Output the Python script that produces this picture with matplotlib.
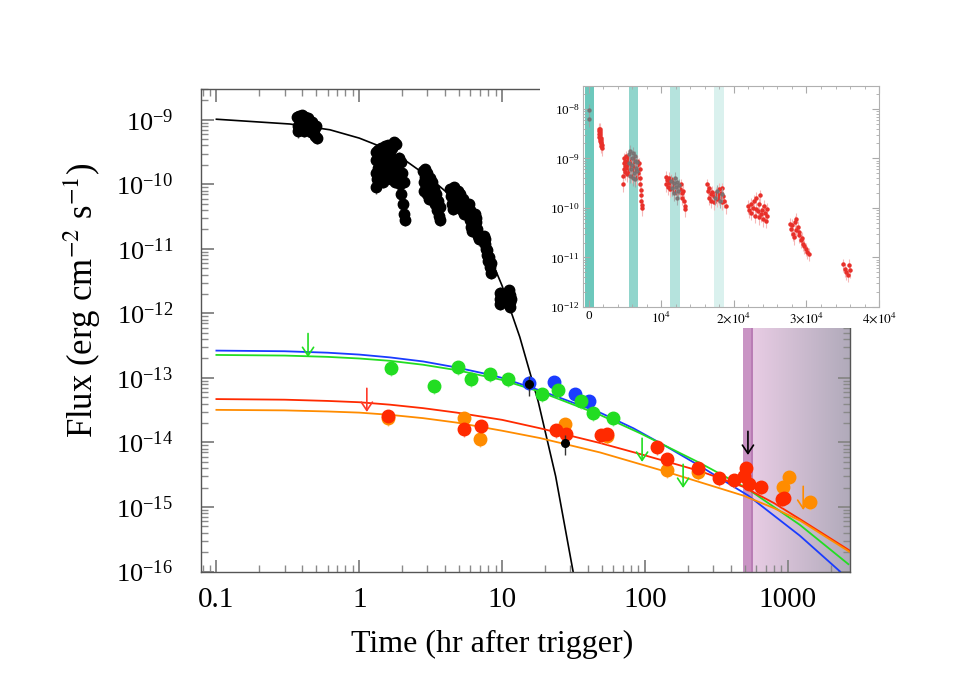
import numpy as np
import matplotlib
matplotlib.use('Agg')
import matplotlib.pyplot as plt
import matplotlib.patches as patches
from matplotlib.colors import LinearSegmentedColormap
from matplotlib.ticker import LogLocator, NullFormatter, MultipleLocator

plt.rcParams['font.family'] = ['Liberation Serif', 'DejaVu Serif']
plt.rcParams['mathtext.fontset'] = 'stix'

# ---- main panel: XRT light curve (hr, erg cm^-2 s^-1) ----
xrt_t = [0.365, 0.37, 0.375, 0.38, 0.385, 0.39, 0.395, 0.40, 0.405, 0.41, 0.415, 0.42, 0.43,
         0.44, 0.45, 0.46, 0.47, 0.48, 0.49, 0.50, 0.51,
         1.30, 1.30, 1.31, 1.32, 1.33, 1.35, 1.36, 1.38, 1.40, 1.42, 1.44, 1.46, 1.48, 1.50,
         1.52, 1.54, 1.56, 1.58, 1.60, 1.62, 1.64, 1.66, 1.68, 1.70, 1.72, 1.75, 1.78, 1.80,
         1.83, 1.86, 1.89, 1.92, 1.95, 1.97, 2.00, 2.02, 2.05, 2.07, 2.08,
         2.80, 2.82, 2.85, 2.88, 2.90, 2.93, 2.96, 3.00, 3.03, 3.07, 3.10, 3.15, 3.20, 3.25,
         3.30, 3.35, 3.40, 3.45, 3.50, 3.55, 3.60, 3.65, 3.70,
         4.35, 4.40, 4.45, 4.50, 4.55, 4.60, 4.70, 4.80, 4.90, 5.00, 5.10, 5.20, 5.30, 5.40, 5.45,
         5.80, 5.85, 5.90, 5.95, 6.00, 6.10, 6.15, 6.20, 6.50, 6.55, 6.60, 6.70, 6.80, 6.90,
         7.50, 7.55, 7.60, 7.70, 7.80, 7.90, 8.00, 8.10, 8.20, 8.30, 8.40,
         9.60, 9.65, 9.70, 9.75, 11.2, 11.3, 11.35, 11.4, 11.5]
xrt_f = [1.1e-9, 8.0e-10, 6.6e-10, 1.15e-9, 9.5e-10, 7.2e-10, 1.2e-9, 1.0e-9, 8.5e-10, 6.8e-10,
         1.1e-9, 9.0e-10, 7.6e-10, 1.05e-9, 8.2e-10, 6.4e-10, 9.2e-10, 7.0e-10, 5.6e-10, 8.0e-10, 5.2e-10,
         3.2e-10, 1.5e-10, 9.0e-11, 2.4e-10, 1.2e-10, 3.4e-10, 1.8e-10, 2.6e-10, 1.4e-10, 3.6e-10,
         2.1e-10, 1.1e-10, 3.0e-10, 1.6e-10, 3.9e-10, 2.3e-10, 1.3e-10, 2.9e-10, 4.1e-10, 1.9e-10,
         3.3e-10, 1.2e-10, 2.5e-10, 3.7e-10, 1.6e-10, 4.5e-10, 1.1e-10, 4.2e-10, 2.0e-10, 1.4e-10,
         2.6e-10, 1.0e-10, 2.2e-10, 7.0e-11, 1.5e-10, 5.0e-11, 3.5e-11, 1.1e-10, 2.8e-11,
         1.6e-10, 1.1e-10, 8.0e-11, 1.75e-10, 1.3e-10, 9.5e-11, 7.0e-11, 1.5e-10, 1.05e-10, 8.0e-11,
         6.0e-11, 1.25e-10, 9.0e-11, 1.1e-10, 6.5e-11, 8.5e-11, 5.0e-11, 7.0e-11, 4.0e-11, 5.5e-11,
         3.2e-11, 4.5e-11, 2.8e-11,
         8.5e-11, 6.5e-11, 5.0e-11, 7.5e-11, 4.2e-11, 9.0e-11, 6.0e-11, 4.5e-11, 8.0e-11, 5.5e-11,
         7.0e-11, 4.0e-11, 6.0e-11, 3.5e-11, 5.0e-11,
         4.5e-11, 3.5e-11, 5.0e-11, 2.8e-11, 4.0e-11, 2.2e-11, 3.2e-11, 1.9e-11, 3.5e-11, 2.6e-11,
         3.0e-11, 2.0e-11, 1.6e-11, 1.4e-11,
         1.6e-11, 1.2e-11, 1.4e-11, 1.0e-11, 8.0e-12, 9.5e-12, 6.5e-12, 7.5e-12, 5.2e-12, 6.0e-12, 4.3e-12,
         2.1e-12, 1.7e-12, 1.4e-12, 1.9e-12, 2.3e-12, 1.9e-12, 1.5e-12, 1.25e-12, 1.7e-12]

# late black points
black_t = [15.4, 27.6]
black_f = [8.0e-14, 9.8e-15]

green_t = [1.67, 3.34, 4.91, 6.05, 8.23, 11.0, 19.0, 24.6, 35.6, 43.2, 59.7]
green_f = [1.43e-13, 7.5e-14, 1.48e-13, 9.6e-14, 1.15e-13, 9.6e-14, 5.6e-14, 6.5e-14, 4.4e-14, 2.86e-14, 2.4e-14]
blue_t = [15.4, 23.1, 32.4, 40.6]
blue_f = [8.4e-14, 8.7e-14, 5.65e-14, 4.4e-14]
red_t = [1.59, 5.41, 7.11, 23.8, 28.0, 49.2, 54.2, 121, 143, 235, 330, 420, 493, 510, 535, 649, 911, 940]
red_f = [2.58e-14, 1.62e-14, 1.8e-14, 1.56e-14, 1.36e-14, 1.31e-14, 1.35e-14, 8.5e-15, 5.5e-15, 4.0e-15,
         2.8e-15, 2.6e-15, 3.0e-15, 4.0e-15, 2.3e-15, 2.05e-15, 1.33e-15, 1.38e-15]
orange_t = [1.59, 5.41, 7.0, 27.6, 54.2, 143, 235, 925, 1018, 1430]
orange_f = [2.4e-14, 2.4e-14, 1.13e-14, 1.94e-14, 1.26e-14, 3.75e-15, 3.5e-15, 2.04e-15, 2.9e-15, 1.2e-15]

# upper limits (arrow tips)
ul_green_t = [0.438, 95.5, 185]
ul_green_f = [2.1e-13, 5.0e-15, 1.97e-15]
ul_red_t = [1.13]
ul_red_f = [2.97e-14]
ul_black_t = [526]
ul_black_f = [6.4e-15]
ul_orange_t = [1282]
ul_orange_f = [9.0e-16]

# model curves
xrt_model_t = [0.1, 0.327, 0.623, 1.0, 1.39, 2.15, 3.13, 4.56, 6.28, 8.0, 10.0, 13.3, 17.9, 23.7, 31.4]
xrt_model_f = [1.02e-9, 8.6e-10, 7.0e-10, 5.2e-10, 3.9e-10, 2.26e-10, 1.25e-10, 6.1e-11, 2.4e-11,
               8.7e-12, 2.68e-12, 4.3e-13, 4.3e-14, 3.0e-15, 1.0e-16]
blue_model_t = [0.1, 0.3, 0.6, 1.0, 1.64, 2.8, 4.81, 8.23, 10, 18.4, 48.5, 83, 142, 243, 529, 1213, 2323]
blue_model_f = [2.65e-13, 2.59e-13, 2.46e-13, 2.3e-13, 2.08e-13, 1.8e-13, 1.45e-13, 1.12e-13, 1.0e-13,
                6.4e-14, 2.9e-14, 1.66e-14, 8.6e-15, 4.3e-15, 1.5e-15, 3.6e-16, 1e-16]
green_model_t = [0.1, 0.3, 0.6, 1, 1.64, 2.8, 4.81, 10, 18.4, 48.5, 92.5, 243, 516, 1213, 2655]
green_model_f = [2.27e-13, 2.22e-13, 2.12e-13, 2.0e-13, 1.84e-13, 1.6e-13, 1.32e-13, 9.3e-14, 6.1e-14,
                 2.67e-14, 1.39e-14, 4.8e-15, 1.95e-15, 5.3e-16, 1.3e-16]
red_model_t = [0.1, 0.3, 0.6, 1, 1.64, 2.8, 4.81, 10, 18.4, 48.5, 97.7, 243, 489, 800, 1213, 2723]
red_model_f = [4.7e-14, 4.6e-14, 4.4e-14, 4.2e-14, 3.85e-14, 3.4e-14, 2.9e-14, 2.24e-14, 1.66e-14,
               9.8e-15, 6.4e-15, 3.6e-15, 2.05e-15, 1.15e-15, 6.5e-16, 2.1e-16]
orange_model_t = [0.1, 0.3, 0.6, 1, 1.64, 2.8, 4.81, 10, 18.4, 48.5, 142, 489, 800, 1213, 2723]
orange_model_f = [3.2e-14, 3.14e-14, 3.02e-14, 2.9e-14, 2.68e-14, 2.38e-14, 2.03e-14, 1.52e-14, 1.17e-14,
                  7.0e-15, 3.5e-15, 1.5e-15, 9.6e-16, 6.2e-16, 2.0e-16]

# shaded epochs (hr)
band_t = [484, 569]

# ---- inset: flux vs seconds ----
inset_red_t = [1350, 1400, 1420, 1450, 1480, 1500, 1520, 1550, 1580, 1600, 1620, 1650, 1680, 1700, 1730, 1760, 1800,
               4700, 4750, 4800, 4850, 4900, 4950, 5000, 5050, 5100, 5150, 5200, 5300, 5350, 5400, 5500, 5600,
               5700, 5800, 5900, 6000, 6100, 6200, 6300, 6400, 6500, 6600, 6700, 6800, 6900, 7000, 7050, 7100,
               7150, 7200, 7250, 7300, 7350,
               10600, 10700, 10800, 10900, 11000, 11100, 11200, 11300, 11400, 11500, 11700, 11900, 12100, 12300,
               12500, 12700, 12800, 12900, 13000, 13100, 13200, 13300,
               16300, 16400, 16500, 16600, 16800, 16900, 17000, 17200, 17300, 17500, 17600, 17800, 17900, 18000,
               18200, 18300, 18400, 18500, 18700, 18900,
               22000, 22100, 22300, 22400, 22600, 22700, 22900, 23000, 23100, 23300, 23400, 23500, 23600, 23700,
               23900, 24000, 24100, 24300, 24400, 24500, 24600,
               27700, 27800, 28000, 28100, 28300, 28400, 28500, 28600, 28800, 28900, 29000, 29200, 29400, 29500,
               29700, 29900, 30100, 30300,
               35100, 35300, 35500, 35700, 35800, 36000]
inset_red_f = [4.0e-9, 3.6e-9, 3.1e-9, 2.7e-9, 3.9e-9, 3.3e-9, 2.5e-9, 2.9e-9, 2.2e-9, 3.5e-9, 2.6e-9, 2.0e-9,
               2.4e-9, 1.8e-9, 2.1e-9, 1.6e-9, 1.9e-9,
               3.0e-10, 4.5e-10, 6.0e-10, 8.0e-10, 1.0e-9, 7.0e-10, 5.2e-10, 9.0e-10, 1.1e-9, 6.5e-10, 8.5e-10,
               4.8e-10, 1.0e-9, 7.5e-10, 5.5e-10, 9.5e-10, 6.2e-10, 8.0e-10, 4.5e-10, 7.0e-10, 1.0e-9, 5.8e-10,
               8.5e-10, 6.6e-10, 4.2e-10, 9.0e-10, 7.2e-10, 5.0e-10, 8.0e-10, 6.0e-10, 4.0e-10, 3.0e-10, 2.3e-10,
               1.8e-10, 1.4e-10, 1.15e-10, 1.0e-10,
               4.2e-10, 3.0e-10, 3.6e-10, 2.6e-10, 4.0e-10, 3.2e-10, 2.4e-10, 3.8e-10, 2.8e-10, 3.3e-10, 2.2e-10,
               3.0e-10, 2.0e-10, 2.7e-10, 2.4e-10, 3.0e-10, 2.0e-10, 1.6e-10, 2.2e-10, 1.4e-10, 1.1e-10, 9.5e-11,
               3.0e-10, 2.2e-10, 1.6e-10, 2.5e-10, 1.9e-10, 1.4e-10, 2.1e-10, 1.7e-10, 1.3e-10, 2.0e-10, 1.5e-10,
               1.8e-10, 2.4e-10, 1.6e-10, 2.0e-10, 1.3e-10, 2.5e-10, 1.7e-10, 1.4e-10, 1.1e-10,
               1.1e-10, 9.0e-11, 1.2e-10, 8.0e-11, 1.0e-10, 1.4e-10, 7.0e-11, 9.5e-11, 1.6e-10, 8.5e-11, 6.5e-11,
               1.2e-10, 1.8e-10, 7.5e-11, 9.0e-11, 6.0e-11, 1.1e-10, 8.0e-11, 5.5e-11, 9.5e-11, 7.0e-11,
               4.8e-11, 3.8e-11, 4.5e-11, 3.0e-11, 2.6e-11, 5.2e-11, 6.0e-11, 3.5e-11, 4.2e-11, 2.8e-11, 3.2e-11,
               2.2e-11, 2.5e-11, 1.9e-11, 1.7e-11, 1.5e-11, 1.3e-11, 1.2e-11,
               7.3e-12, 5.8e-12, 5.0e-12, 4.5e-12, 7.2e-12, 5.5e-12]
inset_grey_t = [0, 0,
                5500, 5600, 5700, 5800, 5900, 6000, 6100, 6200, 6300, 6400, 6500, 6600, 6700, 5650, 6050, 6350,
                11300, 11500, 11700, 11800, 11900, 12000, 12100, 12200, 12300, 12400,
                17400, 17700, 18100, 18300]
inset_grey_f = [9.5e-9, 6.2e-9,
                1.2e-9, 8e-10, 1.4e-9, 6e-10, 1.0e-9, 7.5e-10, 1.3e-9, 5e-10, 9e-10, 1.1e-9, 6.5e-10, 8.5e-10,
                5.5e-10, 4.5e-10, 4e-10, 3.8e-10,
                3.5e-10, 2.5e-10, 3.2e-10, 2.0e-10, 4e-10, 2.7e-10, 1.6e-10, 3.3e-10, 2.2e-10, 2.9e-10,
                1.6e-10, 2.2e-10, 1.4e-10, 1.9e-10]
inset_bands = [(-550, 680), (5500, 6720), (11190, 12550), (17190, 18650)]
inset_band_alpha = [1.0, 0.75, 0.5, 0.25]

C_GREEN = '#22dd22'
C_BLUE = '#1a3cff'
C_RED = '#ff2a00'
C_ORANGE = '#ff8c00'
TICK_GREY = '#8a8a8a'

fig = plt.figure(figsize=(9.79, 6.92), dpi=100)
ax = fig.add_axes([0.2053, 0.1741, 0.6629, 0.6973])
ax.set_xscale('log')
ax.set_yscale('log')
xmin, xmax = 0.078, 2724
ymin, ymax = 1e-16, 3.0e-9

# shaded region: dark band plus gradient to the right edge
ax.axvspan(band_t[0], band_t[1], color='#c994c4', lw=0, zorder=0.4)
ax.axvspan(band_t[1] * 0.965, band_t[1], color='#b97db5', lw=0, zorder=0.45)
frac = (np.log10(band_t[1]) - np.log10(xmin)) / (np.log10(xmax) - np.log10(xmin))
cmap = LinearSegmentedColormap.from_list('fade', ['#e8cce4', '#b0aaba'])
ax.imshow(np.linspace(0, 1, 256)[None, :], extent=[frac, 1, 0, 1], transform=ax.transAxes,
          aspect='auto', cmap=cmap, zorder=0.3)
ax.set_xlim(xmin, xmax)
ax.set_ylim(ymin, ymax)

# model curves
ax.plot(xrt_model_t, xrt_model_f, color='black', lw=1.2, zorder=2)
ax.plot(blue_model_t, blue_model_f, color=C_BLUE, lw=1.3, zorder=2)
ax.plot(green_model_t, green_model_f, color=C_GREEN, lw=1.3, zorder=2)
ax.plot(red_model_t, red_model_f, color=C_RED, lw=1.3, zorder=2)
ax.plot(orange_model_t, orange_model_f, color=C_ORANGE, lw=1.3, zorder=2)

# data points
xrt_f_arr = np.array(xrt_f)
ax.errorbar(xrt_t, xrt_f, yerr=0.2 * xrt_f_arr, fmt='o', ms=7.5, color='black',
            ecolor='#555555', elinewidth=1, capsize=0, zorder=3)
for t, f, c, ec in [(orange_t, orange_f, C_ORANGE, '#ffc070'),
                    (red_t, red_f, C_RED, '#ff9070'),
                    (blue_t, blue_f, C_BLUE, '#8090ff'),
                    (green_t, green_f, C_GREEN, '#90f090')]:
    f = np.array(f)
    ax.errorbar(t, f, yerr=0.25 * f, fmt='o', ms=9, color=c, ecolor=ec,
                elinewidth=1, capsize=0, zorder=3)
black_f_arr = np.array(black_f)
ax.errorbar(black_t, black_f, yerr=0.35 * black_f_arr, fmt='o', ms=5.5, color='black',
            ecolor='#333333', elinewidth=1, capsize=0, zorder=4)

# upper limits
for ts, fs, c in [(ul_green_t, ul_green_f, C_GREEN), (ul_red_t, ul_red_f, '#ff3a2a'),
                  (ul_black_t, ul_black_f, 'black'), (ul_orange_t, ul_orange_f, C_ORANGE)]:
    for t, f in zip(ts, fs):
        ax.annotate('', xy=(t, f), xytext=(0, 17), textcoords='offset points',
                    arrowprops=dict(arrowstyle='->,head_length=0.6,head_width=0.4',
                                    color=c, lw=1.2, shrinkA=0, shrinkB=0), zorder=3)

ax.set_xticks([0.1, 1, 10, 100, 1000])
ax.set_xticklabels(['0.1', '1', '10', '100', '1000'])
ax.xaxis.set_minor_locator(LogLocator(base=10, subs=np.arange(2, 10)))
ax.xaxis.set_minor_formatter(NullFormatter())
ax.yaxis.set_major_locator(LogLocator(base=10, numticks=20))
ax.yaxis.set_minor_locator(LogLocator(base=10, subs=np.arange(2, 10), numticks=20))
ax.yaxis.set_minor_formatter(NullFormatter())
ax.tick_params(which='both', direction='in', top=True, right=True, color=TICK_GREY)
ax.tick_params(which='major', length=9, width=1.4)
ax.tick_params(which='minor', length=5, width=1.0)
ax.tick_params(axis='x', which='major', labelsize=21, pad=11)
ax.tick_params(axis='y', which='major', labelsize=19, pad=20)
for s in ax.spines.values():
    s.set_color('#555555')
    s.set_linewidth(1.0)
ax.set_xlabel('Time (hr after trigger)', fontsize=23, va='center')
ax.set_ylabel(r'Flux (erg cm$^{-2}$ s$^{-1}$)', fontsize=25, va='center')
ax.xaxis.set_label_coords(0.448, -0.152)
ax.yaxis.set_label_coords(-0.183, 0.563)

# inset with white backing
fig.patches.append(patches.Rectangle((540 / 979, 1 - 328 / 692), 346 / 979, 250 / 692,
                                     transform=fig.transFigure, facecolor='white',
                                     edgecolor='none', zorder=1))
axi = fig.add_axes([0.5955, 0.5564, 0.3024, 0.3194], zorder=2)
axi.set_yscale('log')
for (a, b), al in zip(inset_bands, inset_band_alpha):
    axi.axvspan(a, b, color='#6cc8bc', alpha=al, lw=0, zorder=0.5)
ir = np.array(inset_red_f)
axi.errorbar(inset_red_t, inset_red_f, yerr=0.3 * ir, fmt='o', ms=2.2, color='#e8302a',
             ecolor='#f6b8b8', elinewidth=0.8, capsize=0, zorder=2)
ig = np.array(inset_grey_f)
axi.errorbar(inset_grey_t, inset_grey_f, yerr=0.3 * ig, fmt='o', ms=2.2, color='#777070',
             ecolor='#a0a0a0', elinewidth=0.8, capsize=0, zorder=3, alpha=0.85)
axi.set_xlim(-800, 40000)
axi.set_ylim(1e-12, 2.9e-8)
axi.set_xticks([0, 1e4, 2e4, 3e4, 4e4])
axi.set_xticklabels(['0', r'$10^4$', r'$2{\times}10^4$', r'$3{\times}10^4$', r'$4{\times}10^4$'])
axi.xaxis.set_minor_locator(MultipleLocator(2000))
axi.yaxis.set_major_locator(LogLocator(base=10, numticks=10))
axi.yaxis.set_minor_locator(LogLocator(base=10, subs=np.arange(2, 10), numticks=10))
axi.yaxis.set_minor_formatter(NullFormatter())
axi.tick_params(which='both', direction='in', top=True, right=True, color='#aaaaaa', labelsize=9.5)
axi.tick_params(which='major', length=5, width=0.8, pad=2.5)
axi.tick_params(which='minor', length=2.5, width=0.6)
for s in axi.spines.values():
    s.set_color('#b0b0b0')
    s.set_linewidth(0.8)

fig.savefig('out.png', dpi=100)
